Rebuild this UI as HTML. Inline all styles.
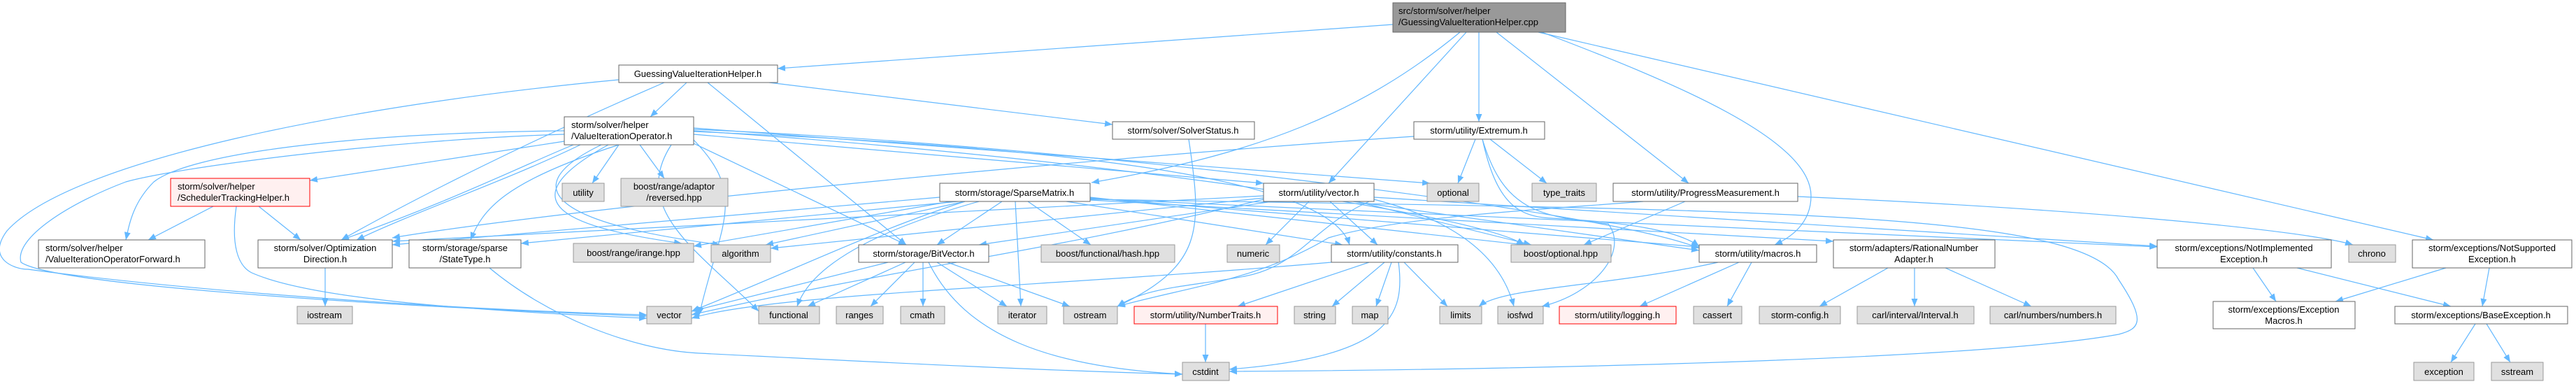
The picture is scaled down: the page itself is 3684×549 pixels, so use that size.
<!DOCTYPE html>
<html><head><meta charset="utf-8"><style>
html,body{margin:0;padding:0;background:#fff;}
svg{display:block;}
text{font-family:"Liberation Sans",sans-serif;font-size:13px;fill:#000;}
.e{fill:none;stroke:#63b8ff;stroke-width:1.2;marker-end:url(#a);}
.w{fill:#fff;stroke:#666;}
.g{fill:#e0e0e0;stroke:#999;}
.r{fill:#fff0f0;stroke:#f00;}
.t{fill:#999;stroke:#666;}
</style></head><body>
<svg width="3684" height="549" viewBox="0 0 3684 549" xmlns="http://www.w3.org/2000/svg">
<defs><marker id="a" markerUnits="userSpaceOnUse" markerWidth="12" markerHeight="10" refX="11" refY="4.5" orient="auto"><path d="M0,0 L11,4.5 L0,9 z" fill="#63b8ff"/></marker></defs>
<g>
<!-- top edges -->
<path class="e" d="M1992,35 L1112,98"/>
<path class="e" d="M2115,46 L2115,174"/>
<path class="e" d="M2140,46 L2415,262"/>
<path class="e" d="M2205,46 C2400,120 2590,200 2590,280 C2590,320 2560,340 2538,350"/>
<path class="e" d="M2200,46 L3480,343"/>
<path class="e" d="M2097,46 L1900,262"/>
<path class="e" d="M2088,46 C1950,160 1800,220 1561,261"/>
<!-- GVIH -->
<path class="e" d="M982,118 L930,167"/>
<path class="e" d="M950,118 C760,200 600,280 488,343"/>
<path class="e" d="M885,114 C500,150 100,230 10,330 C-20,370 20,385 40,385 C300,420 700,445 925,450"/>
<path class="e" d="M1012,118 L1296,350"/>
<path class="e" d="M1100,118 L1591,178"/>
<!-- VIO -->
<path class="e" d="M807,202 L443,258"/>
<path class="e" d="M807,187 C500,190 270,220 220,260 C190,290 185,320 180,343"/>
<path class="e" d="M807,192 C550,200 250,240 180,260 C100,290 20,340 30,375 C80,410 600,440 925,452"/>
<path class="e" d="M830,207 C720,260 600,300 510,343"/>
<path class="e" d="M820,207 C740,240 640,290 488,343"/>
<path class="e" d="M885,207 C720,260 690,300 673,343"/>
<path class="e" d="M885,207 L847,262"/>
<path class="e" d="M915,207 L950,255"/>
<path class="e" d="M870,207 C700,300 850,330 975,348"/>
<path class="e" d="M860,207 C730,270 800,320 1030,350"/>
<path class="e" d="M992,205 L1296,350"/>
<path class="e" d="M992,200 C1070,280 1030,320 1000,450"/>
<path class="e" d="M992,192 L1807,262"/>
<path class="e" d="M992,188 C1500,210 1900,250 1930,350"/>
<path class="e" d="M992,185 C1500,205 2300,300 2430,355"/>
<path class="e" d="M992,183 L2045,262"/>
<path class="e" d="M992,187 C1500,220 2100,300 2180,350"/>
<path class="e" d="M960,207 C900,300 1000,360 1085,445"/>
<!-- STH -->
<path class="e" d="M305,295 L212,343"/>
<path class="e" d="M370,295 L430,343"/>
<path class="e" d="M338,295 C330,350 340,380 360,390 C450,430 700,445 925,455"/>
<path class="e" d="M465,383 L465,438"/>
<path class="e" d="M700,383 C780,450 900,500 1000,505 C1300,520 1500,530 1691,535"/>
<path class="e" d="M1700,199 C1720,330 1720,380 1598,438"/>
<!-- SparseMatrix -->
<path class="e" d="M1344,282 L561,350"/>
<path class="e" d="M1370,288 L745,348"/>
<path class="e" d="M1380,288 L1095,350"/>
<path class="e" d="M1360,288 L992,352"/>
<path class="e" d="M1433,288 L1340,350"/>
<path class="e" d="M1452,288 L1460,438"/>
<path class="e" d="M1470,288 L1560,350"/>
<path class="e" d="M1525,288 L1920,350"/>
<path class="e" d="M1380,288 C1250,330 1150,380 989,445"/>
<path class="e" d="M1400,288 C1250,330 1160,380 1140,438"/>
<path class="e" d="M1559,282 L2180,350"/>
<path class="e" d="M1559,283 L2430,353"/>
<path class="e" d="M1559,286 L2622,345"/>
<path class="e" d="M1559,284 L3085,353"/>
<path class="e" d="M1559,285 C2500,300 2980,300 3030,400 C3070,460 3060,470 3030,478 C2800,520 2000,530 1758,531"/>
<!-- vector.h -->
<path class="e" d="M1807,280 L561,345"/>
<path class="e" d="M1807,283 L1102,355"/>
<path class="e" d="M1820,288 L1400,350"/>
<path class="e" d="M1872,288 L1810,350"/>
<path class="e" d="M1902,288 L1970,350"/>
<path class="e" d="M1935,288 L2430,358"/>
<path class="e" d="M1940,288 L2190,350"/>
<path class="e" d="M1965,285 C1880,320 1860,380 1780,395 C1700,410 1640,410 1598,438"/>
<path class="e" d="M1965,285 C2100,320 2150,380 2165,438"/>
<path class="e" d="M1807,285 C1500,360 1300,380 989,450"/>
<path class="e" d="M1965,282 L3085,352"/>
<!-- BitVector -->
<path class="e" d="M1270,375 L989,445"/>
<path class="e" d="M1295,375 L1155,438"/>
<path class="e" d="M1308,375 L1245,438"/>
<path class="e" d="M1320,375 L1320,438"/>
<path class="e" d="M1340,375 L1440,438"/>
<path class="e" d="M1355,375 L1530,438"/>
<path class="e" d="M1328,375 C1380,480 1500,525 1691,535"/>
<!-- constants -->
<path class="e" d="M1904,375 C1500,410 1100,420 989,455"/>
<path class="e" d="M1958,375 L1770,438"/>
<path class="e" d="M1980,375 L1905,438"/>
<path class="e" d="M1990,375 L1968,438"/>
<path class="e" d="M2008,375 L2070,438"/>
<path class="e" d="M2000,375 C2010,450 1990,510 1758,528"/>
<path class="e" d="M1724,463 L1724,518"/>
<!-- Extremum -->
<path class="e" d="M2110,199 L2085,262"/>
<path class="e" d="M2131,199 L2212,262"/>
<path class="e" d="M2120,199 C2140,290 2170,310 2220,312 C2330,318 2400,330 2430,352"/>
<path class="e" d="M2022,195 C1500,230 800,300 561,340"/>
<path class="e" d="M2120,199 C2150,300 2200,310 2300,320 C2330,360 2280,420 2205,438"/>
<!-- ProgressMeasurement -->
<path class="e" d="M2410,288 L2265,350"/>
<path class="e" d="M2350,288 C2200,300 2000,310 1900,340 C1800,400 1700,410 1598,438"/>
<path class="e" d="M2571,281 C3000,300 3300,330 3365,350"/>
<!-- macros -->
<path class="e" d="M2457,375 C2300,410 2150,410 2115,438"/>
<path class="e" d="M2487,375 L2345,438"/>
<path class="e" d="M2505,375 L2470,438"/>
<!-- RNA -->
<path class="e" d="M2700,383 L2602,438"/>
<path class="e" d="M2738,383 L2738,438"/>
<path class="e" d="M2782,383 L2905,438"/>
<!-- exceptions -->
<path class="e" d="M3222,383 L3255,431"/>
<path class="e" d="M3285,383 L3505,438"/>
<path class="e" d="M3498,383 L3340,431"/>
<path class="e" d="M3560,383 L3550,438"/>
<path class="e" d="M3540,463 L3505,518"/>
<path class="e" d="M3556,463 L3590,518"/>
</g>
<g>
<rect class="t" x="1992" y="4" width="247" height="42"/>
<text x="2000" y="20">src/storm/solver/helper</text><text x="2000" y="36">/GuessingValueIterationHelper.cpp</text>

<rect class="w" x="885" y="93" width="227" height="25"/><text x="998" y="110" text-anchor="middle">GuessingValueIterationHelper.h</text>
<rect class="w" x="807" y="167" width="185" height="40"/><text x="817" y="183">storm/solver/helper</text><text x="817" y="199">/ValueIterationOperator.h</text>
<rect class="r" x="244" y="255" width="199" height="40"/><text x="254" y="271">storm/solver/helper</text><text x="254" y="287">/SchedulerTrackingHelper.h</text>
<rect class="w" x="55" y="343" width="238" height="40"/><text x="65" y="359">storm/solver/helper</text><text x="65" y="375">/ValueIterationOperatorForward.h</text>
<rect class="w" x="369" y="343" width="192" height="40"/><text x="465" y="359" text-anchor="middle">storm/solver/Optimization</text><text x="465" y="375" text-anchor="middle">Direction.h</text>
<rect class="w" x="585" y="343" width="160" height="40"/><text x="665" y="359" text-anchor="middle">storm/storage/sparse</text><text x="665" y="375" text-anchor="middle">/StateType.h</text>
<rect class="g" x="820" y="348" width="172" height="27"/><text x="906" y="366" text-anchor="middle">boost/range/irange.hpp</text>
<rect class="g" x="804" y="262" width="60" height="26"/><text x="834" y="280" text-anchor="middle">utility</text>
<rect class="g" x="888" y="255" width="153" height="40"/><text x="964" y="271" text-anchor="middle">boost/range/adaptor</text><text x="964" y="287" text-anchor="middle">/reversed.hpp</text>
<rect class="g" x="425" y="438" width="79" height="25"/><text x="464" y="455" text-anchor="middle">iostream</text>
<rect class="g" x="925" y="438" width="64" height="25"/><text x="957" y="455" text-anchor="middle">vector</text>

<rect class="w" x="1591" y="174" width="203" height="25"/><text x="1692" y="191" text-anchor="middle">storm/solver/SolverStatus.h</text>
<rect class="w" x="1344" y="262" width="215" height="26"/><text x="1451" y="280" text-anchor="middle">storm/storage/SparseMatrix.h</text>
<rect class="w" x="1807" y="262" width="158" height="26"/><text x="1886" y="280" text-anchor="middle">storm/utility/vector.h</text>
<rect class="g" x="1017" y="350" width="85" height="25"/><text x="1059" y="367" text-anchor="middle">algorithm</text>
<rect class="w" x="1228" y="350" width="186" height="25"/><text x="1321" y="367" text-anchor="middle">storm/storage/BitVector.h</text>
<rect class="g" x="1489" y="350" width="191" height="25"/><text x="1584" y="367" text-anchor="middle">boost/functional/hash.hpp</text>
<rect class="g" x="1755" y="350" width="75" height="25"/><text x="1792" y="367" text-anchor="middle">numeric</text>
<rect class="w" x="1904" y="350" width="181" height="25"/><text x="1994" y="367" text-anchor="middle">storm/utility/constants.h</text>
<rect class="g" x="1085" y="438" width="87" height="25"/><text x="1128" y="455" text-anchor="middle">functional</text>
<rect class="g" x="1196" y="438" width="67" height="25"/><text x="1229" y="455" text-anchor="middle">ranges</text>
<rect class="g" x="1288" y="438" width="63" height="25"/><text x="1319" y="455" text-anchor="middle">cmath</text>
<rect class="g" x="1427" y="438" width="70" height="25"/><text x="1462" y="455" text-anchor="middle">iterator</text>
<rect class="g" x="1521" y="438" width="77" height="25"/><text x="1559" y="455" text-anchor="middle">ostream</text>
<rect class="r" x="1622" y="438" width="205" height="25"/><text x="1724" y="455" text-anchor="middle">storm/utility/NumberTraits.h</text>
<rect class="g" x="1851" y="438" width="59" height="25"/><text x="1880" y="455" text-anchor="middle">string</text>
<rect class="g" x="1934" y="438" width="51" height="25"/><text x="1959" y="455" text-anchor="middle">map</text>
<rect class="g" x="1691" y="518" width="67" height="26"/><text x="1724" y="536" text-anchor="middle">cstdint</text>

<rect class="w" x="2022" y="174" width="187" height="25"/><text x="2115" y="191" text-anchor="middle">storm/utility/Extremum.h</text>
<rect class="g" x="2041" y="262" width="74" height="26"/><text x="2078" y="280" text-anchor="middle">optional</text>
<rect class="g" x="2191" y="262" width="92" height="26"/><text x="2237" y="280" text-anchor="middle">type_traits</text>
<rect class="w" x="2307" y="262" width="264" height="26"/><text x="2439" y="280" text-anchor="middle">storm/utility/ProgressMeasurement.h</text>
<rect class="g" x="2161" y="350" width="143" height="25"/><text x="2232" y="367" text-anchor="middle">boost/optional.hpp</text>
<rect class="w" x="2430" y="350" width="168" height="25"/><text x="2514" y="367" text-anchor="middle">storm/utility/macros.h</text>
<rect class="w" x="2622" y="343" width="231" height="40"/><text x="2737" y="359" text-anchor="middle">storm/adapters/RationalNumber</text><text x="2737" y="375" text-anchor="middle">Adapter.h</text>
<rect class="g" x="2059" y="438" width="60" height="25"/><text x="2089" y="455" text-anchor="middle">limits</text>
<rect class="g" x="2142" y="438" width="65" height="25"/><text x="2174" y="455" text-anchor="middle">iosfwd</text>
<rect class="r" x="2230" y="438" width="167" height="25"/><text x="2313" y="455" text-anchor="middle">storm/utility/logging.h</text>
<rect class="g" x="2422" y="438" width="69" height="25"/><text x="2456" y="455" text-anchor="middle">cassert</text>
<rect class="g" x="2516" y="438" width="116" height="25"/><text x="2574" y="455" text-anchor="middle">storm-config.h</text>
<rect class="g" x="2656" y="438" width="167" height="25"/><text x="2739" y="455" text-anchor="middle">carl/interval/Interval.h</text>
<rect class="g" x="2846" y="438" width="180" height="25"/><text x="2936" y="455" text-anchor="middle">carl/numbers/numbers.h</text>

<rect class="w" x="3085" y="343" width="249" height="40"/><text x="3209" y="359" text-anchor="middle">storm/exceptions/NotImplemented</text><text x="3209" y="375" text-anchor="middle">Exception.h</text>
<rect class="g" x="3359" y="350" width="67" height="25"/><text x="3392" y="367" text-anchor="middle">chrono</text>
<rect class="w" x="3450" y="343" width="228" height="40"/><text x="3564" y="359" text-anchor="middle">storm/exceptions/NotSupported</text><text x="3564" y="375" text-anchor="middle">Exception.h</text>
<rect class="w" x="3165" y="431" width="203" height="39"/><text x="3266" y="447" text-anchor="middle">storm/exceptions/Exception</text><text x="3266" y="463" text-anchor="middle">Macros.h</text>
<rect class="w" x="3425" y="438" width="247" height="25"/><text x="3548" y="455" text-anchor="middle">storm/exceptions/BaseException.h</text>
<rect class="g" x="3452" y="518" width="86" height="26"/><text x="3495" y="536" text-anchor="middle">exception</text>
<rect class="g" x="3563" y="518" width="74" height="26"/><text x="3600" y="536" text-anchor="middle">sstream</text>
</g>
</svg>
</body></html>
